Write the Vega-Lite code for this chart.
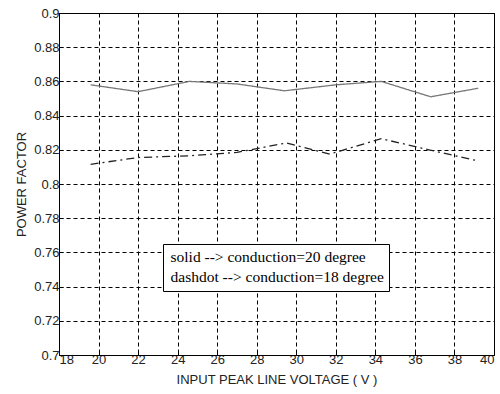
{
  "$schema": "https://vega.github.io/schema/vega-lite/v6.json",
  "width": 435,
  "height": 342,
  "autosize": {"type": "none"},
  "padding": {"left": 59, "top": 13, "right": 6, "bottom": 39},
  "background": "white",
  "config": {
    "view": {"stroke": "black", "strokeWidth": 1},
    "axis": {
      "labelFont": "Liberation Sans",
      "labelFontSize": 13,
      "labelColor": "#222222",
      "titleFont": "Liberation Sans",
      "titleFontSize": 13,
      "titleFontWeight": "normal",
      "titleColor": "#222222",
      "domainColor": "black",
      "tickColor": "black",
      "tickSize": -4,
      "gridColor": "black",
      "gridOpacity": 1,
      "gridDash": [4, 3],
      "gridWidth": 1
    }
  },
  "data": {
    "values": [
      {"v": 19.6, "pf": 0.858, "s": "solid --> conduction=20 degree"},
      {"v": 22.0, "pf": 0.854, "s": "solid --> conduction=20 degree"},
      {"v": 24.6, "pf": 0.860, "s": "solid --> conduction=20 degree"},
      {"v": 27.0, "pf": 0.8585, "s": "solid --> conduction=20 degree"},
      {"v": 29.4, "pf": 0.8545, "s": "solid --> conduction=20 degree"},
      {"v": 32.0, "pf": 0.858, "s": "solid --> conduction=20 degree"},
      {"v": 34.3, "pf": 0.860, "s": "solid --> conduction=20 degree"},
      {"v": 36.8, "pf": 0.851, "s": "solid --> conduction=20 degree"},
      {"v": 39.2, "pf": 0.856, "s": "solid --> conduction=20 degree"},
      {"v": 19.6, "pf": 0.8115, "s": "dashdot --> conduction=18 degree"},
      {"v": 22.0, "pf": 0.8155, "s": "dashdot --> conduction=18 degree"},
      {"v": 24.6, "pf": 0.8165, "s": "dashdot --> conduction=18 degree"},
      {"v": 27.0, "pf": 0.8185, "s": "dashdot --> conduction=18 degree"},
      {"v": 29.5, "pf": 0.824, "s": "dashdot --> conduction=18 degree"},
      {"v": 31.7, "pf": 0.8175, "s": "dashdot --> conduction=18 degree"},
      {"v": 34.3, "pf": 0.8265, "s": "dashdot --> conduction=18 degree"},
      {"v": 36.7, "pf": 0.820, "s": "dashdot --> conduction=18 degree"},
      {"v": 39.2, "pf": 0.8135, "s": "dashdot --> conduction=18 degree"}
    ]
  },
  "mark": {"type": "line", "strokeWidth": 1.3},
  "encoding": {
    "x": {
      "field": "v",
      "type": "quantitative",
      "scale": {"domain": [18, 40], "nice": false, "zero": false},
      "axis": {
        "title": "INPUT PEAK LINE VOLTAGE ( V )",
        "values": [18, 20, 22, 24, 26, 28, 30, 32, 34, 36, 38, 40],
        "labelPadding": 2,
        "titlePadding": 7
      }
    },
    "y": {
      "field": "pf",
      "type": "quantitative",
      "scale": {"domain": [0.7, 0.9], "nice": false, "zero": false},
      "axis": {
        "title": "POWER FACTOR",
        "values": [0.7, 0.72, 0.74, 0.76, 0.78, 0.8, 0.82, 0.84, 0.86, 0.88, 0.9],
        "format": "~g",
        "labelPadding": 4,
        "titlePadding": 5
      }
    },
    "color": {
      "field": "s",
      "type": "nominal",
      "scale": {
        "domain": ["solid --> conduction=20 degree", "dashdot --> conduction=18 degree"],
        "range": ["#777777", "#222222"]
      },
      "legend": {
        "title": null,
        "orient": "none",
        "legendX": 104,
        "legendY": 231,
        "strokeColor": "black",
        "fillColor": "white",
        "padding": 5,
        "labelFont": "Liberation Serif",
        "labelFontSize": 15.5,
        "labelColor": "black",
        "labelLimit": 400,
        "labelOffset": -13,
        "symbolSize": 0,
        "symbolStrokeWidth": 0,
        "symbolOpacity": 0,
        "rowPadding": 3,
        "cornerRadius": 0
      }
    },
    "strokeDash": {
      "field": "s",
      "type": "nominal",
      "scale": {
        "domain": ["solid --> conduction=20 degree", "dashdot --> conduction=18 degree"],
        "range": [[1, 0], [8, 4, 2, 4]]
      },
      "legend": null
    }
  }
}
